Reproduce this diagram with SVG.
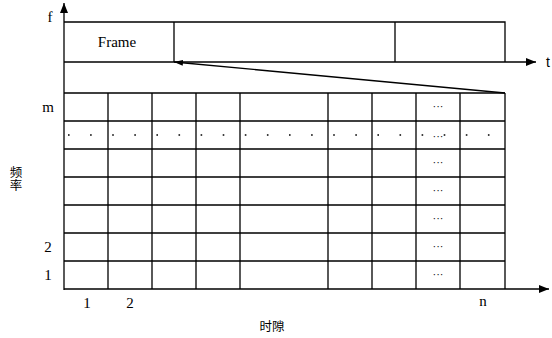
<svg xmlns="http://www.w3.org/2000/svg" width="552" height="338" viewBox="0 0 552 338">
<style>
.l{stroke:#000;stroke-width:1.3;fill:none}
.t{font-family:"Liberation Serif","Noto Sans CJK SC",serif;font-size:15px;fill:#000}
.e{font-family:"Liberation Serif",serif;font-size:11px;fill:#000}
.c{font-family:"Noto Sans CJK SC",sans-serif;font-size:12.5px;fill:#000}
</style>
<defs>
<marker id="ah" markerWidth="10" markerHeight="8" refX="10" refY="4" orient="auto" markerUnits="userSpaceOnUse">
<path d="M0,0 L10,4 L0,8 Z" fill="#000"/>
</marker>
<marker id="ahs" markerWidth="9" markerHeight="6" refX="9" refY="3" orient="auto" markerUnits="userSpaceOnUse">
<path d="M0,0 L9,3 L0,6 Z" fill="#000"/>
</marker>
</defs>
<rect width="552" height="338" fill="#fff"/>
<g id="connectors">
<line class="l" x1="64" y1="290" x2="64" y2="3" marker-end="url(#ah)"/>
<line class="l" x1="64" y1="62" x2="536" y2="62" marker-end="url(#ah)"/>
<line class="l" x1="64" y1="289" x2="549" y2="289" marker-end="url(#ah)"/>
<line class="l" x1="505" y1="93" x2="174" y2="62" marker-end="url(#ahs)"/>
</g>
<g id="frame">
<path class="l" d="M64,22 H505 V62 M174,22 V62 M395,22 V62"/>
<text class="t" x="117" y="47" text-anchor="middle" font-size="16">Frame</text>
</g>
<g id="grid">
<path class="l" d="M64,93 H505 M64,121 H505 M64,149 H505 M64,177 H505 M64,205 H505 M64,233 H505 M64,261 H505
M108,93 V289 M152,93 V289 M196,93 V289 M240,93 V289 M328,93 V289 M372,93 V289 M416,93 V289 M460,93 V289 M505,93 V289"/>
<line x1="68" y1="135" x2="510" y2="135" stroke="#000" stroke-width="1.6" stroke-dasharray="1.6 20.5"/>
<g class="e" text-anchor="middle">
<text x="438" y="110">···</text>
<text x="438" y="140">···</text>
<text x="438" y="166">···</text>
<text x="438" y="194">···</text>
<text x="438" y="222">···</text>
<text x="438" y="250">···</text>
<text x="438" y="278">···</text>
</g>
</g>
<g id="labels">
<text class="t" x="50" y="22" text-anchor="middle">f</text>
<text x="548" y="67" text-anchor="middle" font-family="Liberation Sans,sans-serif" font-size="14">t</text>
<text class="t" x="48" y="112" text-anchor="middle">m</text>
<text class="t" x="48" y="252" text-anchor="middle">2</text>
<text class="t" x="48" y="280" text-anchor="middle">1</text>
<text class="t" x="87" y="308" text-anchor="middle">1</text>
<text class="t" x="130" y="308" text-anchor="middle">2</text>
<text class="t" x="483" y="306" text-anchor="middle">n</text>
<text class="c" x="16" y="166" style="writing-mode:vertical-rl">频率</text>
<text class="c" x="272" y="331" text-anchor="middle">时隙</text>
</g>
</svg>
